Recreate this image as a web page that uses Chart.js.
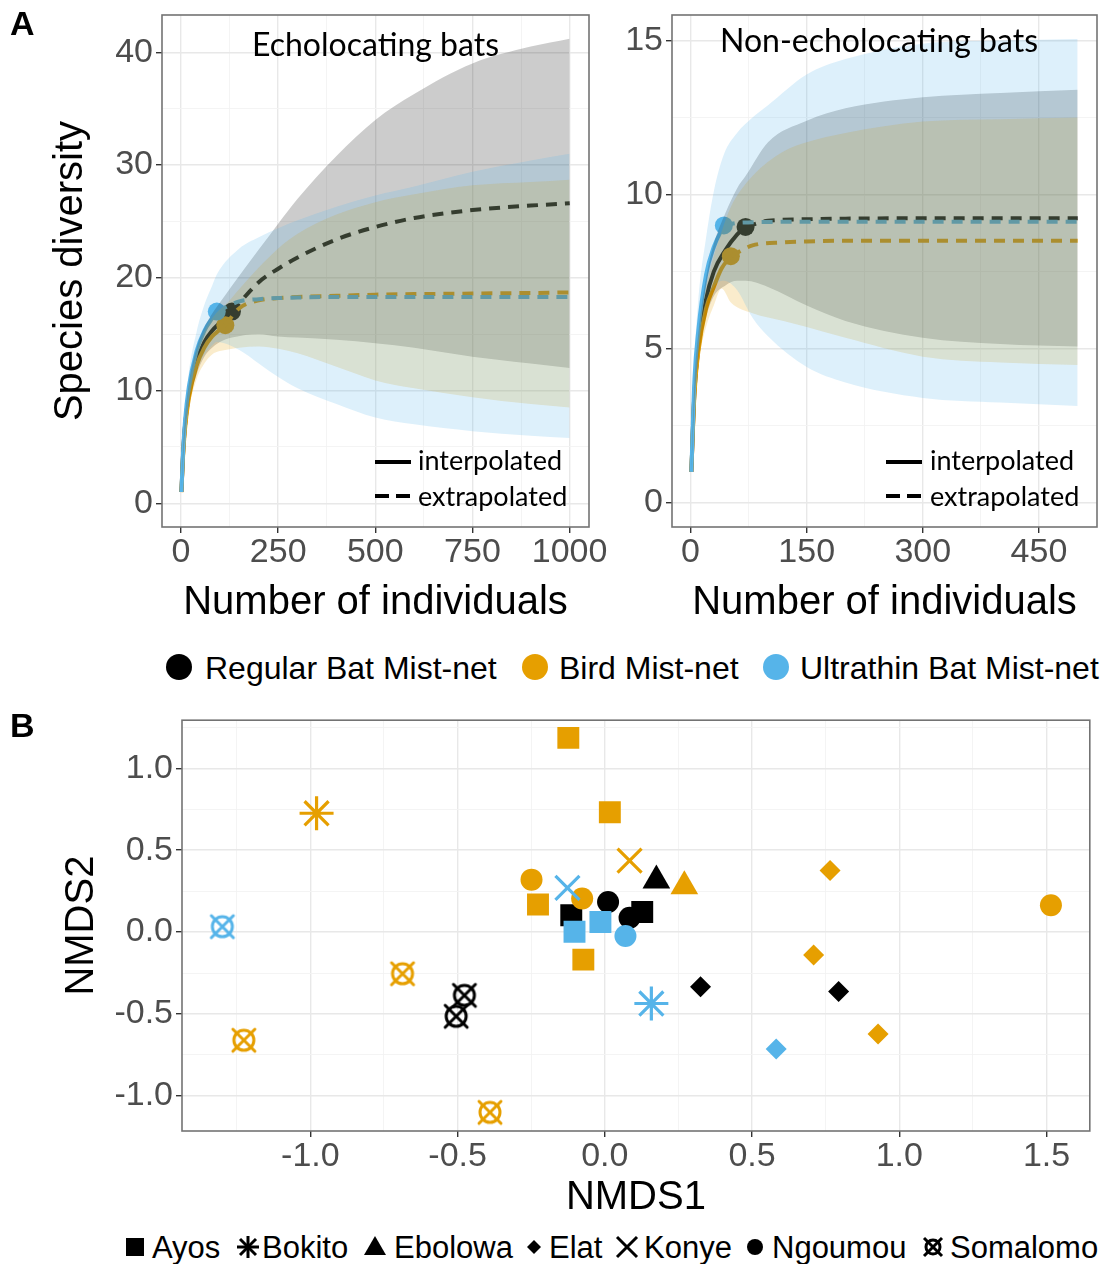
<!DOCTYPE html>
<html>
<head>
<meta charset="utf-8">
<script src="https://cdn.jsdelivr.net/npm/chart.js@4.4.1/dist/chart.umd.min.js"></script>
<style>
  body { margin: 0; background: #fff; }
  #fig { position: relative; width: 1110px; height: 1264px; overflow: hidden; font-family: "Liberation Sans", Arial, sans-serif; color: #000; }
  .box { position: absolute; }
  .t { position: absolute; white-space: nowrap; line-height: 1; }
  .cal { font-family: Lato, "Open Sans", sans-serif; }
  .dot { position: absolute; width: 26px; height: 26px; border-radius: 50%; }
  svg.sym { position: absolute; overflow: visible; }
</style>
</head>
<body>
<div id="fig">
  <div class="box" style="left:0;top:0;width:610px;height:640px"><canvas id="echo"></canvas></div>
  <div class="box" style="left:610px;top:0;width:500px;height:640px"><canvas id="nonecho"></canvas></div>
  <div class="box" style="left:0;top:700px;width:1110px;height:525px"><canvas id="nmds"></canvas></div>

  <div class="t" style="left:10px;top:6px;font-size:34px;font-weight:bold">A</div>
  <div class="t" style="left:10px;top:708px;font-size:34px;font-weight:bold">B</div>

  <div class="t cal" style="left:252px;top:28px;font-size:32px">Echolocating bats</div>
  <div class="t cal" style="left:720px;top:24px;font-size:32px">Non-echolocating bats</div>

  <!-- interpolated / extrapolated keys -->
  <svg class="sym" style="left:375px;top:460px" width="36" height="40">
    <line x1="0" y1="2" x2="36" y2="2" stroke="#000" stroke-width="4"/>
    <line x1="0" y1="36" x2="36" y2="36" stroke="#000" stroke-width="4" stroke-dasharray="14 7"/>
  </svg>
  <div class="t cal" style="left:418px;top:446px;font-size:27px">interpolated</div>
  <div class="t cal" style="left:418px;top:482px;font-size:27px">extrapolated</div>
  <svg class="sym" style="left:886px;top:460px" width="36" height="40">
    <line x1="0" y1="2" x2="36" y2="2" stroke="#000" stroke-width="4"/>
    <line x1="0" y1="36" x2="36" y2="36" stroke="#000" stroke-width="4" stroke-dasharray="14 7"/>
  </svg>
  <div class="t cal" style="left:930px;top:446px;font-size:27px">interpolated</div>
  <div class="t cal" style="left:930px;top:482px;font-size:27px">extrapolated</div>

  <!-- method legend -->
  <div class="dot" style="left:166px;top:654px;background:#000"></div>
  <div class="t" style="left:205px;top:652px;font-size:32px">Regular Bat Mist-net</div>
  <div class="dot" style="left:522px;top:654px;background:#E69F00"></div>
  <div class="t" style="left:559px;top:652px;font-size:32px">Bird Mist-net</div>
  <div class="dot" style="left:763px;top:654px;background:#56B4E9"></div>
  <div class="t" style="left:800px;top:652px;font-size:32px">Ultrathin Bat Mist-net</div>

  <!-- site legend -->
  <svg class="sym" style="left:126px;top:1238px" width="18" height="18"><rect x="0" y="0" width="18" height="18" fill="#000"/></svg>
  <div class="t" style="left:152px;top:1232px;font-size:31px">Ayos</div>
  <svg class="sym" style="left:237px;top:1236px" width="22" height="22" stroke="#000" stroke-width="3">
    <line x1="11" y1="0" x2="11" y2="22"/><line x1="0" y1="11" x2="22" y2="11"/>
    <line x1="3" y1="3" x2="19" y2="19"/><line x1="19" y1="3" x2="3" y2="19"/></svg>
  <div class="t" style="left:262px;top:1232px;font-size:31px">Bokito</div>
  <svg class="sym" style="left:364px;top:1236px" width="22" height="20"><polygon points="11,0 22,19 0,19" fill="#000"/></svg>
  <div class="t" style="left:394px;top:1232px;font-size:31px">Ebolowa</div>
  <svg class="sym" style="left:527px;top:1240px" width="14" height="14"><polygon points="7,0 14,7 7,14 0,7" fill="#000"/></svg>
  <div class="t" style="left:549px;top:1232px;font-size:31px">Elat</div>
  <svg class="sym" style="left:617px;top:1237px" width="20" height="20" stroke="#000" stroke-width="3">
    <line x1="0" y1="0" x2="20" y2="20"/><line x1="20" y1="0" x2="0" y2="20"/></svg>
  <div class="t" style="left:644px;top:1232px;font-size:31px">Konye</div>
  <svg class="sym" style="left:747px;top:1239px" width="16" height="16"><circle cx="8" cy="8" r="8" fill="#000"/></svg>
  <div class="t" style="left:772px;top:1232px;font-size:31px">Ngoumou</div>
  <svg class="sym" style="left:923px;top:1237px" width="20" height="20" stroke="#000" stroke-width="3" fill="none">
    <circle cx="10" cy="10" r="7"/><line x1="1" y1="1" x2="19" y2="19"/><line x1="19" y1="1" x2="1" y2="19"/></svg>
  <div class="t" style="left:950px;top:1232px;font-size:31px">Somalomo</div>
</div>

<script>
// ---- Panel A: rarefaction / extrapolation curves ----
// Echolocating bats, Regular Bat Mist-net (observed at n = 131)
const echoRegObs = 131;
const echoRegX  = [1, 5, 10, 20, 40, 60, 80, 100, 131, 200, 250, 300, 400, 500, 600, 750, 900, 1000];
const echoRegY  = [1, 4.2, 6.8, 9.6, 12.6, 14.3, 15.3, 16.0, 17.0, 19.6, 20.8, 21.8, 23.4, 24.5, 25.3, 26.0, 26.4, 26.6];
const echoRegHi = [1, 4.6, 7.5, 10.6, 13.8, 15.6, 16.8, 17.8, 19.3, 22.5, 24.8, 27.0, 30.8, 34.0, 36.3, 39.0, 40.5, 41.2];
const echoRegLo = [1, 3.8, 6.1, 8.6, 11.4, 13.0, 13.8, 14.3, 14.7, 15.0, 14.8, 14.7, 14.5, 14.2, 13.8, 13.0, 12.4, 12.0];
// Echolocating bats, Bird Mist-net (observed at n = 114)
const echoBirdObs = 114;
const echoBirdX  = [1, 5, 10, 20, 40, 60, 80, 100, 114, 150, 200, 250, 300, 400, 500, 600, 750, 900, 1000];
const echoBirdY  = [1, 4.0, 6.5, 9.3, 12.2, 13.8, 14.8, 15.4, 15.8, 17.3, 18.0, 18.2, 18.3, 18.4, 18.5, 18.55, 18.6, 18.65, 18.7];
const echoBirdHi = [1, 4.4, 7.2, 10.3, 13.4, 15.2, 16.4, 17.2, 17.6, 19.0, 20.9, 22.6, 23.9, 25.6, 26.7, 27.4, 28.2, 28.5, 28.7];
const echoBirdLo = [1, 3.6, 5.8, 8.3, 11.0, 12.4, 13.2, 13.5, 13.6, 13.8, 13.9, 13.7, 13.3, 12.1, 10.9, 10.2, 9.4, 8.8, 8.5];
// Echolocating bats, Ultrathin Bat Mist-net (observed at n = 92)
const echoThinObs = 92;
const echoThinX  = [1, 5, 10, 20, 40, 60, 80, 92, 150, 200, 250, 300, 400, 500, 600, 750, 900, 1000];
const echoThinY  = [1, 4.4, 7.2, 10.3, 13.5, 15.3, 16.4, 17.0, 17.9, 18.1, 18.2, 18.25, 18.3, 18.3, 18.3, 18.3, 18.3, 18.3];
const echoThinHi = [1, 4.9, 8.1, 11.6, 15.2, 17.6, 19.3, 20.3, 22.6, 23.6, 24.4, 25.1, 26.3, 27.3, 28.1, 29.4, 30.4, 31.0];
const echoThinLo = [1, 3.9, 6.3, 9.0, 11.8, 13.2, 14.0, 14.3, 13.6, 12.4, 11.2, 10.2, 8.8, 7.6, 7.0, 6.4, 6.0, 5.8];

// Non-echolocating bats, Regular Bat Mist-net (observed at n = 71)
const nonRegObs = 71;
const nonRegX  = [1, 5, 10, 20, 30, 45, 60, 71, 100, 150, 200, 300, 400, 500];
const nonRegY  = [1, 3.6, 5.0, 6.6, 7.5, 8.2, 8.7, 8.95, 9.15, 9.2, 9.22, 9.23, 9.23, 9.23];
const nonRegHi = [1, 3.9, 5.5, 7.3, 8.4, 9.4, 10.2, 10.6, 11.7, 12.4, 12.8, 13.16, 13.3, 13.4];
const nonRegLo = [1, 3.3, 4.6, 6.0, 6.7, 7.05, 7.2, 7.2, 7.0, 6.4, 5.9, 5.35, 5.15, 5.07];
// Non-echolocating bats, Bird Mist-net (observed at n = 52)
const nonBirdObs = 52;
const nonBirdX  = [1, 5, 10, 20, 30, 40, 52, 80, 120, 150, 200, 300, 400, 500];
const nonBirdY  = [1, 3.5, 4.9, 6.3, 7.0, 7.6, 8.0, 8.35, 8.45, 8.48, 8.5, 8.5, 8.5, 8.5];
const nonBirdHi = [1, 3.8, 5.4, 7.0, 8.0, 8.8, 9.6, 10.6, 11.4, 11.7, 12.0, 12.37, 12.45, 12.5];
const nonBirdLo = [1, 3.2, 4.5, 5.7, 6.4, 6.95, 6.5, 6.15, 5.9, 5.7, 5.35, 4.74, 4.55, 4.47];
// Non-echolocating bats, Ultrathin Bat Mist-net (observed at n = 43)
const nonThinObs = 43;
const nonThinX  = [1, 5, 10, 20, 30, 43, 60, 80, 100, 150, 200, 300, 400, 500];
const nonThinY  = [1, 4.0, 5.6, 7.4, 8.3, 9.0, 9.08, 9.1, 9.11, 9.12, 9.12, 9.12, 9.12, 9.12];
const nonThinHi = [1, 4.5, 6.6, 8.6, 10.1, 11.3, 12.0, 12.5, 12.9, 13.9, 14.4, 14.9, 15.0, 15.05];
const nonThinLo = [1, 3.6, 4.9, 6.4, 7.0, 7.2, 6.9, 6.0, 5.4, 4.4, 3.9, 3.4, 3.25, 3.14];

// axis breaks
const echoXTicks = [0, 250, 500, 750, 1000];
const echoXMinor = [125, 375, 625, 875];
const echoYTicks = [0, 10, 20, 30, 40];
const echoYMinor = [5, 15, 25, 35];
const nonXTicks = [0, 150, 300, 450];
const nonXMinor = [75, 225, 375];
const nonYTicks = [0, 5, 10, 15];
const nonYMinor = [2.5, 7.5, 12.5];

// ---- Panel B: NMDS ordination ----
const nmdsMethod = ['Bird','Bird','Bird','Bird','Bird','Bird','Bird','Bird','Bird','Bird','Bird','Bird','Bird','Bird','Bird','Bird',
                    'Regular','Regular','Regular','Regular','Regular','Regular','Regular','Regular','Regular',
                    'Ultrathin','Ultrathin','Ultrathin','Ultrathin','Ultrathin','Ultrathin','Ultrathin'];
const nmdsSite = ['Ayos','Ayos','Ayos','Ayos','Bokito','Konye','Ngoumou','Ngoumou','Ngoumou','Ebolowa','Elat','Elat','Elat','Somalomo','Somalomo','Somalomo',
                  'Ayos','Ayos','Ngoumou','Ngoumou','Ebolowa','Elat','Elat','Somalomo','Somalomo',
                  'Konye','Ayos','Ayos','Ngoumou','Bokito','Elat','Somalomo'];
const nmds1 = [-0.124, 0.017, -0.227, -0.073, -0.979, 0.084, -0.249, -0.077, 1.515, 0.27, 0.765, 0.709, 0.928, -0.687, -1.226, -0.39,
               -0.114, 0.127, 0.011, 0.084, 0.175, 0.325, 0.794, -0.477, -0.505,
               -0.127, -0.015, -0.103, 0.07, 0.158, 0.582, -1.299];
const nmds2 = [1.185, 0.731, 0.168, -0.168, 0.725, 0.436, 0.32, 0.205, 0.164, 0.28, 0.375, -0.14, -0.622, -0.254, -0.66, -1.10,
               0.103, 0.123, 0.184, 0.087, 0.315, -0.333, -0.363, -0.386, -0.514,
               0.27, 0.061, 0.002, -0.024, -0.436, -0.713, 0.033];
const nmdsXTicks = [-1.0, -0.5, 0.0, 0.5, 1.0, 1.5];
const nmdsXMinor = [-1.25, -0.75, -0.25, 0.25, 0.75, 1.25];
const nmdsYTicks = [-1.0, -0.5, 0.0, 0.5, 1.0];
const nmdsYMinor = [-0.75, -0.25, 0.25, 0.75, 1.25];

const colors = { Regular: '#000000', Bird: '#E69F00', Ultrathin: '#56B4E9' };
const bands  = { Regular: 'rgba(0,0,0,0.2)', Bird: 'rgba(230,159,0,0.2)', Ultrathin: 'rgba(86,180,233,0.2)' };

Chart.defaults.font.family = '"Liberation Sans", Arial, sans-serif';
Chart.defaults.animation = false;

// draws the panel border
const framePlugin = {
  id: 'frame',
  afterDraw(chart) {
    const { ctx, chartArea: a } = chart;
    ctx.save();
    ctx.strokeStyle = '#737373';
    ctx.lineWidth = 1.6;
    ctx.strokeRect(a.left, a.top, a.right - a.left, a.bottom - a.top);
    ctx.restore();
  }
};

function pts(xs, ys) {
  return xs.map((x, i) => ({ x: x, y: ys[i] }));
}

function makeScale(min, max, majors, minors, fmt, title, size) {
  const all = majors.concat(minors);
  return {
    type: 'linear', min: min, max: max,
    afterBuildTicks: s => { s.ticks = all.slice().sort((a, b) => a - b).map(v => ({ value: v })); },
    afterFit: s => {
      if (s.isHorizontal()) s.height = size; else s.width = size;
      s.paddingLeft = 0; s.paddingRight = 0; s.paddingTop = 0; s.paddingBottom = 0;
    },
    grid: {
      color: c => majors.includes(c.tick.value) ? '#e8e8e8' : '#f3f3f3',
      lineWidth: c => majors.includes(c.tick.value) ? 1.4 : 0.9,
      tickColor: c => majors.includes(c.tick.value) ? '#333333' : 'rgba(0,0,0,0)',
      tickLength: 6
    },
    border: { display: false },
    ticks: {
      autoSkip: false, maxRotation: 0, padding: 3, color: '#4d4d4d',
      font: { size: 34, lineHeight: 1 },
      callback: v => majors.includes(v) ? fmt(v) : ''
    },
    title: title
  };
}

function seriesSets(x, y, hi, lo, obs, key) {
  const inter = [], extra = [];
  let obsY = null;
  x.forEach((v, i) => {
    if (v <= obs) inter.push({ x: v, y: y[i] });
    if (v >= obs) extra.push({ x: v, y: y[i] });
    if (v === obs) obsY = y[i];
  });
  const col = colors[key];
  const line = { showLine: true, pointRadius: 0, borderColor: col, borderWidth: 4, fill: false, cubicInterpolationMode: 'monotone', order: 2 };
  return [
    { ...line, data: inter },
    { ...line, data: extra, borderDash: [11, 8] },
    { data: [{ x: obs, y: obsY }], pointRadius: 9, pointBackgroundColor: col, pointBorderWidth: 0, order: 2 },
    { data: pts(x, hi), showLine: true, pointRadius: 0, borderWidth: 0, fill: '+1', backgroundColor: bands[key], cubicInterpolationMode: 'monotone', order: 1 },
    { data: pts(x, lo), showLine: true, pointRadius: 0, borderWidth: 0, fill: false, cubicInterpolationMode: 'monotone', order: 1 }
  ];
}

const xTitle = pad => ({ display: true, text: 'Number of individuals', color: '#000', font: { size: 40 }, padding: { top: 0, bottom: pad } });

new Chart(document.getElementById('echo'), {
  type: 'scatter',
  data: { datasets: [].concat(
    seriesSets(echoThinX, echoThinY, echoThinHi, echoThinLo, echoThinObs, 'Ultrathin'),
    seriesSets(echoBirdX, echoBirdY, echoBirdHi, echoBirdLo, echoBirdObs, 'Bird'),
    seriesSets(echoRegX, echoRegY, echoRegHi, echoRegLo, echoRegObs, 'Regular')
  ) },
  options: {
    responsive: true, maintainAspectRatio: false,
    layout: { padding: { top: 15, right: 21, left: 0, bottom: 0 } },
    plugins: { legend: { display: false }, tooltip: { enabled: false } },
    scales: {
      x: makeScale(-49, 1050, echoXTicks, echoXMinor, v => String(v), xTitle(13), 113),
      y: makeScale(-2.1, 43.3, echoYTicks, echoYMinor, v => String(v),
        { display: true, text: 'Species diversity', color: '#000', font: { size: 40 }, padding: { top: 47, bottom: 0 } }, 162)
    }
  },
  plugins: [framePlugin]
});

new Chart(document.getElementById('nonecho'), {
  type: 'scatter',
  data: { datasets: [].concat(
    seriesSets(nonThinX, nonThinY, nonThinHi, nonThinLo, nonThinObs, 'Ultrathin'),
    seriesSets(nonBirdX, nonBirdY, nonBirdHi, nonBirdLo, nonBirdObs, 'Bird'),
    seriesSets(nonRegX, nonRegY, nonRegHi, nonRegLo, nonRegObs, 'Regular')
  ) },
  options: {
    responsive: true, maintainAspectRatio: false,
    layout: { padding: { top: 15, right: 13, left: 0, bottom: 0 } },
    plugins: { legend: { display: false }, tooltip: { enabled: false } },
    scales: {
      x: makeScale(-24, 525, nonXTicks, nonXMinor, v => String(v), xTitle(13), 113),
      y: makeScale(-0.79, 15.83, nonYTicks, nonYMinor, v => String(v), { display: false }, 62)
    }
  },
  plugins: [framePlugin]
});

// circle-with-cross marker for Somalomo
function circleCross(col) {
  const c = document.createElement('canvas');
  c.width = 30; c.height = 30;
  const g = c.getContext('2d');
  g.strokeStyle = col; g.lineWidth = 3; g.lineCap = 'round';
  g.beginPath(); g.arc(15, 15, 10, 0, Math.PI * 2); g.stroke();
  g.beginPath(); g.moveTo(4, 4); g.lineTo(26, 26); g.moveTo(26, 4); g.lineTo(4, 26); g.stroke();
  return c;
}
const siteStyle  = { Ayos: 'rect', Bokito: 'star', Ebolowa: 'triangle', Elat: 'rectRot', Konye: 'crossRot', Ngoumou: 'circle' };
const siteRadius = { Ayos: 15.5, Bokito: 17, Ebolowa: 16, Elat: 10.5, Konye: 17, Ngoumou: 11, Somalomo: 15 };
const siteStroke = { Bokito: 3.2, Konye: 3.2 };

const nmdsSets = ['Ultrathin', 'Bird', 'Regular'].map(m => {
  const data = [];
  nmdsMethod.forEach((mm, i) => { if (mm === m) data.push({ x: nmds1[i], y: nmds2[i], site: nmdsSite[i] }); });
  const cc = circleCross(colors[m]);
  return {
    data: data,
    pointStyle: c => siteStyle[c.raw.site] || cc,
    pointRadius: c => siteRadius[c.raw.site],
    pointBorderWidth: c => siteStroke[c.raw.site] || 0,
    pointBackgroundColor: colors[m],
    pointBorderColor: colors[m]
  };
});

const dec = v => v.toFixed(1);
new Chart(document.getElementById('nmds'), {
  type: 'scatter',
  data: { datasets: nmdsSets },
  options: {
    responsive: true, maintainAspectRatio: false,
    layout: { padding: { top: 18, right: 13, left: 0, bottom: 0 } },
    plugins: { legend: { display: false }, tooltip: { enabled: false } },
    scales: {
      x: makeScale(-1.436, 1.647, nmdsXTicks, nmdsXMinor, dec,
        { display: true, text: 'NMDS1', color: '#000', font: { size: 40 }, padding: { top: 0, bottom: 3 } }, 94),
      y: makeScale(-1.214, 1.293, nmdsYTicks, nmdsYMinor, dec,
        { display: true, text: 'NMDS2', color: '#000', font: { size: 40 }, padding: { top: 58, bottom: 0 } }, 182)
    }
  },
  plugins: [framePlugin]
});
</script>
</body>
</html>
